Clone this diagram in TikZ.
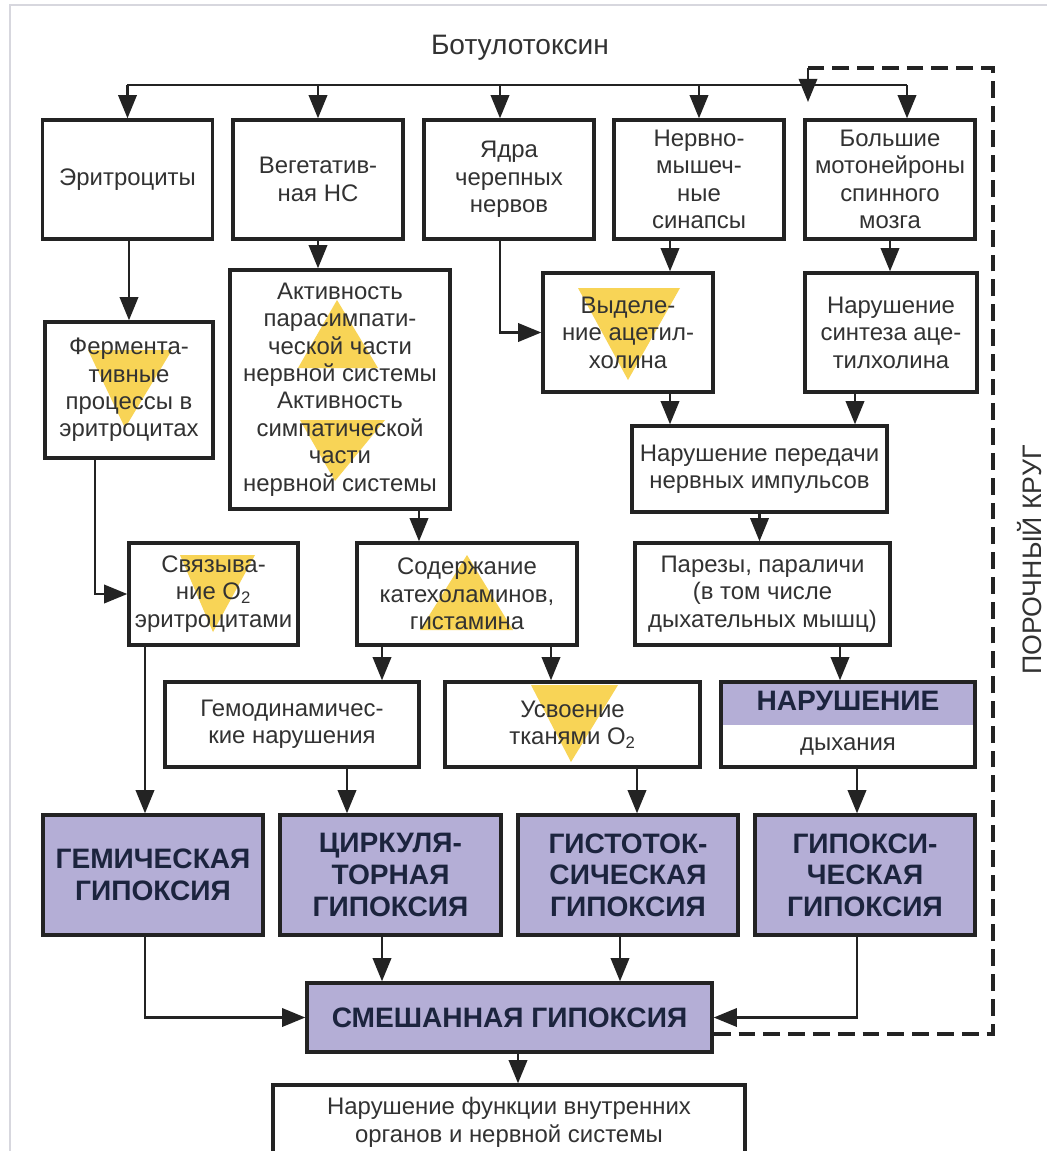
\documentclass[tikz,border=0pt]{standalone}
\usepackage{fontspec}
\setmainfont{Liberation Sans}
\usetikzlibrary{arrows.meta}

\definecolor{lila}{RGB}{180,174,214}
\definecolor{navy}{RGB}{28,36,62}
\definecolor{gelb}{RGB}{248,212,86}
\definecolor{rand}{RGB}{35,35,35}
\definecolor{schrift}{RGB}{50,50,50}
\definecolor{rahmen}{RGB}{215,215,222}

\tikzset{
  box/.style={draw=rand, line width=2.4pt, align=center, text=schrift,
    font=\fontsize{17}{19.5}\selectfont, inner sep=1pt},
  hyp/.style={box, fill=lila, text=navy, font=\fontsize{20}{22.5}\selectfont\bfseries},
  dykhbox/.style={box, path picture={\fill[lila] (path picture bounding box.north west)
    rectangle (path picture bounding box.east);}},
  arr/.style={draw=rand, line width=1.7pt, -{Triangle[length=0.58cm,width=0.46cm]}},
  loop/.style={draw=rand, line width=2.4pt, dash pattern=on 0.42cm off 0.2cm},
  tri/.style={fill=gelb},
}

\begin{document}
\begin{tikzpicture}[x=0.025cm, y=-0.025cm]
\fill[white] (0,0) rectangle (1047,1151);
\useasboundingbox (0,0) rectangle (1047,1151);
\draw[rahmen, line width=1pt] (10,1151) -- (10,5) -- (1047,5);

% yellow triangles behind the text
\fill[tri] (88,350) -- (172,350) -- (125,428) -- cycle;
\fill[tri] (337,300) -- (378,368) -- (298,368) -- cycle;
\fill[tri] (300,420) -- (385,420) -- (335,481) -- cycle;
\fill[tri] (578,288) -- (680,288) -- (628,380) -- cycle;
\fill[tri] (180,555) -- (255,555) -- (213,632) -- cycle;
\fill[tri] (467,555) -- (513,630) -- (420,630) -- cycle;
\fill[tri] (531,685) -- (618,685) -- (571,762) -- cycle;

\node[font=\fontsize{20}{24}\selectfont, text=schrift] (title) at (520,48) {Ботулотоксин};

% first row
\node[box, minimum width=4.25cm, minimum height=2.975cm] (eryth) at (127.5,179.5) {Эритроциты};
\node[box, minimum width=4.25cm, minimum height=2.975cm] (veget) at (318,179.5) {Вегетатив-\\ная НС};
\node[box, minimum width=4.25cm, minimum height=2.975cm] (yadra) at (509,179.5) {Ядра\\черепных\\нервов};
\node[box, minimum width=4.25cm, minimum height=2.975cm] (nerv) at (699,179.5) {Нервно-\\мышеч-\\ные\\синапсы};
\node[box, minimum width=4.25cm, minimum height=2.975cm] (motor) at (890,179.5) {Большие\\мотонейроны\\спинного\\мозга};

% second row
\node[box, minimum width=4.2cm, minimum height=3.4cm] (ferment) at (129,390) {Фермента-\\тивные\\процессы в\\эритроцитах};
\node[box, minimum width=5.5cm, minimum height=5.975cm] (aktiv) at (340,389.5) {Активность\\парасимпати-\\ческой части\\нервной системы\\Активность\\симпатической\\части\\нервной системы};
\node[box, minimum width=4.25cm, minimum height=2.975cm] (vydel) at (628,332.5) {Выделе-\\ние ацетил-\\холина};
\node[box, minimum width=4.3cm, minimum height=2.975cm] (sintez) at (891,332.5) {Нарушение\\синтеза аце-\\тилхолина};
\node[box, minimum width=6.375cm, minimum height=2.15cm] (peredacha) at (759.5,469) {Нарушение передачи\\нервных импульсов};

% third row
\node[box, minimum width=4.225cm, minimum height=2.55cm] (svyaz) at (213.5,594) {Связыва-\\ние O\textsubscript{2}\\эритроцитами};
\node[box, minimum width=5.5cm, minimum height=2.55cm] (soderzh) at (467,594) {Содержание\\катехоламинов,\\гистамина};
\node[box, minimum width=6.375cm, minimum height=2.55cm] (parezy) at (762.5,594) {Парезы, параличи\\(в том числе\\дыхательных мышц)};

% fourth row
\node[box, minimum width=6.35cm, minimum height=2.125cm] (gemodin) at (292,724.5) {Гемодинамичес-\\кие нарушения};
\node[box, minimum width=6.375cm, minimum height=2.125cm] (usvoen) at (572.5,724.5) {Усвоение\\тканями O\textsubscript{2}};
\node[dykhbox, minimum width=6.35cm, minimum height=2.125cm] (dykh) at (848,724.5) {};
\node[font=\fontsize{20}{22.5}\selectfont\bfseries, text=navy] (dykhA) at ([yshift=-0.525cm]dykh.north) {НАРУШЕНИЕ};
\node[font=\fontsize{17}{19.5}\selectfont, text=schrift] (dykhB) at ([yshift=0.55cm]dykh.south) {дыхания};

% hypoxia
\node[hyp, minimum width=5.5cm, minimum height=3cm] (gem) at (153,875) {ГЕМИЧЕСКАЯ\\ГИПОКСИЯ};
\node[hyp, minimum width=5.525cm, minimum height=3cm] (cirk) at (390.5,875) {ЦИРКУЛЯ-\\ТОРНАЯ\\ГИПОКСИЯ};
\node[hyp, minimum width=5.5cm, minimum height=3cm] (gist) at (628,875) {ГИСТОТОК-\\СИЧЕСКАЯ\\ГИПОКСИЯ};
\node[hyp, minimum width=5.5cm, minimum height=3cm] (gipoks) at (865,875) {ГИПОКСИ-\\ЧЕСКАЯ\\ГИПОКСИЯ};
\node[hyp, minimum width=10.125cm, minimum height=1.725cm] (mixed) at (509.5,1017.5) {СМЕШАННАЯ ГИПОКСИЯ};
\node[box, minimum width=11.8cm, minimum height=1.875cm] (bottom) at (509,1122.5) {Нарушение функции внутренних\\органов и нервной системы};

\node[rotate=90, font=\fontsize{19}{22}\selectfont, text=schrift] (krug) at (1030,560) {ПОРОЧНЫЙ КРУГ};

% columns of the connectors
\coordinate (busL) at (127,85);
\coordinate (busR) at (907,85);
\coordinate (xa) at (500,0);
\coordinate (xb) at (670,0);
\coordinate (xc) at (855,0);
\coordinate (xd) at (95,0);
\coordinate (xe) at (419,0);
\coordinate (xf) at (145,0);
\coordinate (xg) at (382,0);
\coordinate (xh) at (551,0);
\coordinate (xi) at (840,0);
\coordinate (xj) at (347,0);
\coordinate (xk) at (637,0);
\coordinate (xl) at (857,0);
\coordinate (xm) at (620,0);
\coordinate (xn) at (518,0);
\coordinate (loopR) at (993,68);
\coordinate (loopTop) at (808,68);
\coordinate (loopEnd) at (808,102);

\draw[rand, line width=1.7pt] (busL) -- (busR);
\draw[arr] (eryth.north |- busL) -- (eryth.north);
\draw[arr] (veget.north |- busL) -- (veget.north);
\draw[arr] (xa |- busL) -- (xa |- yadra.north);
\draw[arr] (nerv.north |- busL) -- (nerv.north);
\draw[arr] (busR) -- (busR |- motor.north);

\draw[arr] (ferment.north |- eryth.south) -- (ferment.north);
\draw[arr] (veget.south) -- (veget.south |- aktiv.north);
\draw[arr] (yadra.south -| xa) |- (vydel.west);
\draw[arr] (nerv.south -| xb) -- (vydel.north -| xb);
\draw[arr] (motor.south) -- (motor.south |- sintez.north);
\draw[arr] (vydel.south -| xb) -- (peredacha.north -| xb);
\draw[arr] (sintez.south -| xc) -- (peredacha.north -| xc);

\draw[arr] (ferment.south -| xd) |- (svyaz.west);
\draw[arr] (aktiv.south -| xe) -- (soderzh.north -| xe);
\draw[arr] (peredacha.south) -- (peredacha.south |- parezy.north);

\draw[arr] (svyaz.south -| xf) -- (gem.north -| xf);
\draw[arr] (soderzh.south -| xg) -- (gemodin.north -| xg);
\draw[arr] (soderzh.south -| xh) -- (usvoen.north -| xh);
\draw[arr] (parezy.south -| xi) -- (dykh.north -| xi);

\draw[arr] (gemodin.south -| xj) -- (cirk.north -| xj);
\draw[arr] (usvoen.south -| xk) -- (gist.north -| xk);
\draw[arr] (dykh.south -| xl) -- (gipoks.north -| xl);

\draw[arr] (gem.south -| xf) |- (mixed.west);
\draw[arr] (cirk.south -| xg) -- (mixed.north -| xg);
\draw[arr] (gist.south -| xm) -- (mixed.north -| xm);
\draw[arr] (gipoks.south -| xl) |- (mixed.east);
\draw[arr] (mixed.south -| xn) -- (bottom.north -| xn);

% vicious circle
\draw[loop] ([yshift=-0.41cm]mixed.east) -| (loopR) -- (loopTop);
\draw[arr] (loopTop) -- (loopEnd);
\end{tikzpicture}
\end{document}
